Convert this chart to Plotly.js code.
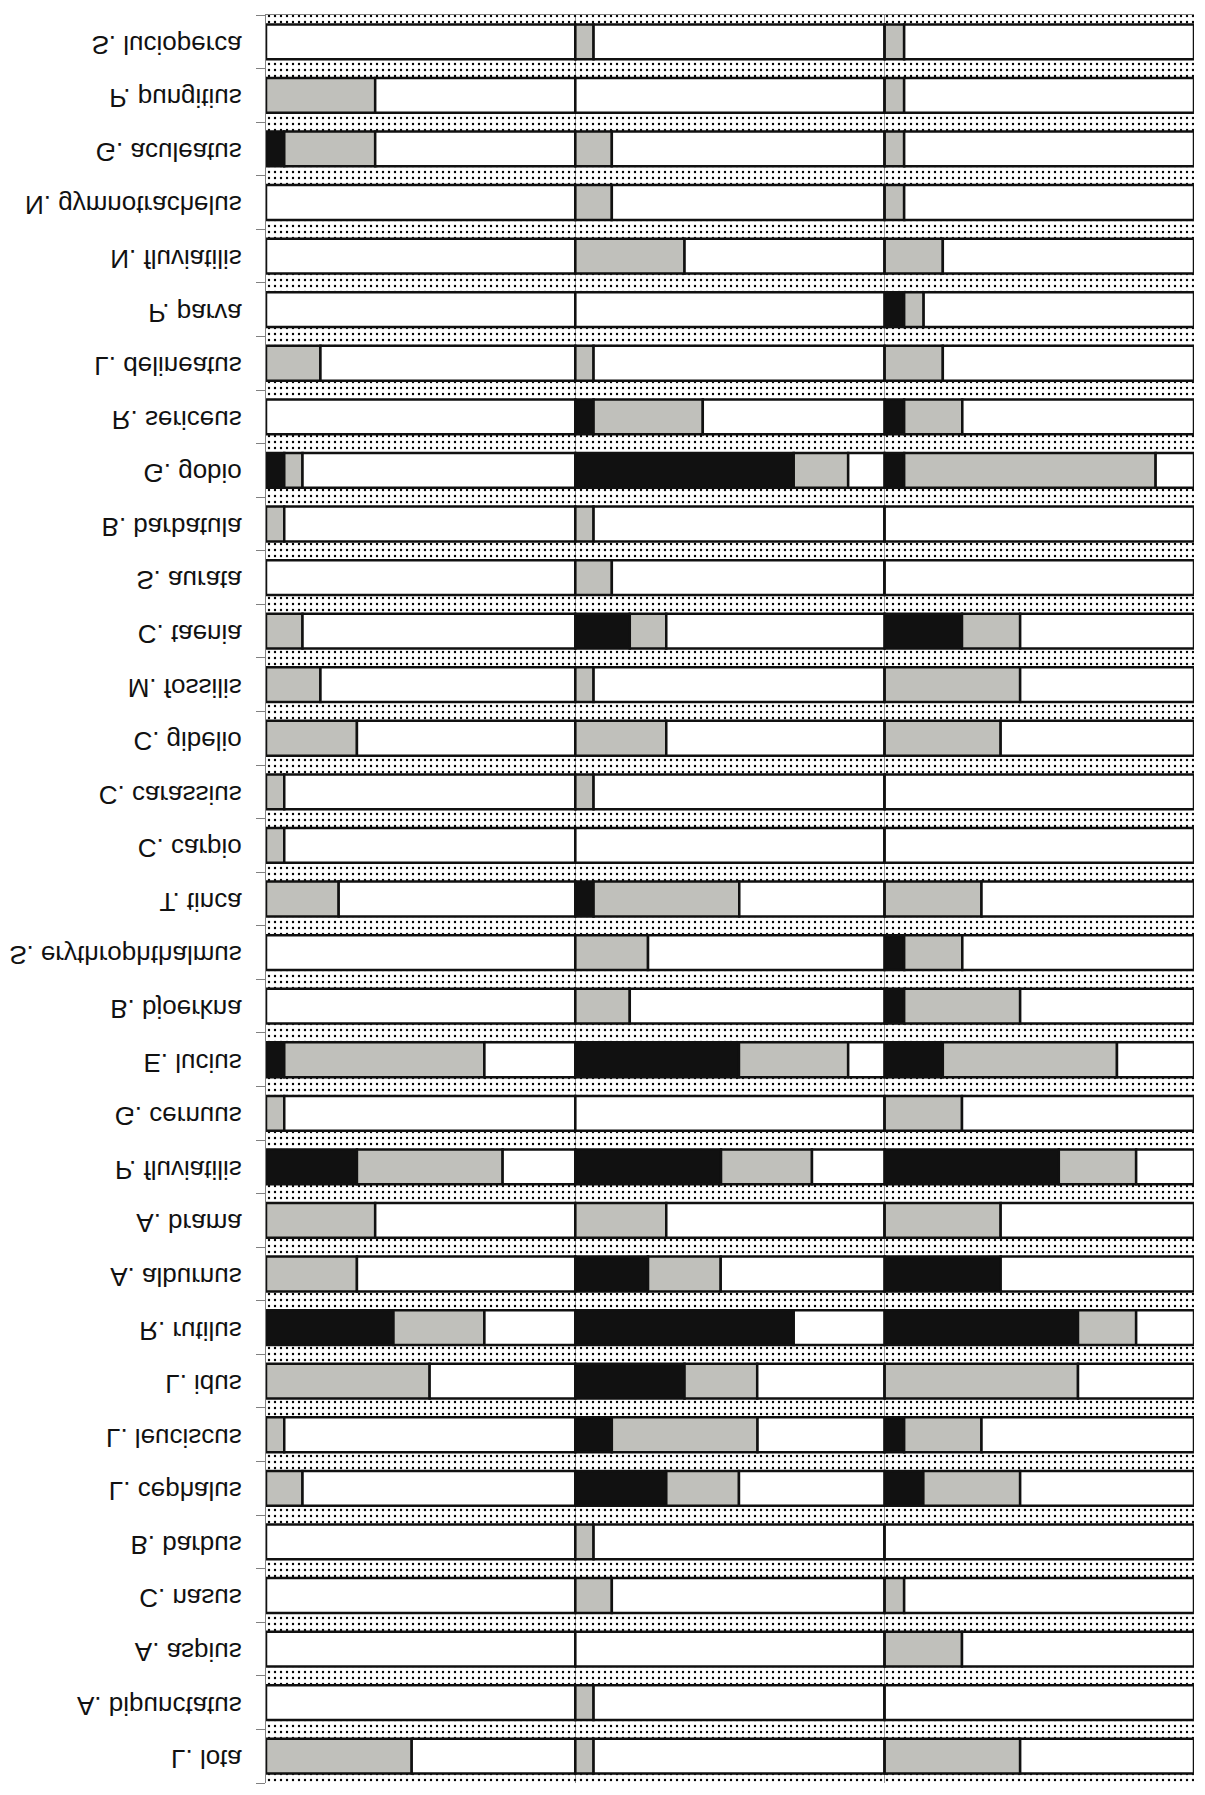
<!DOCTYPE html>
<html>
<head>
<meta charset="utf-8">
<script src="https://cdn.plot.ly/plotly-3.0.1.min.js"></script>
<style>
  html, body { margin: 0; padding: 0; background: #ffffff; }
  #chart { width: 1205px; height: 1795px; transform: scaleY(-1); transform-origin: 50% 50%; }
</style>
</head>
<body>
<div id="chart"></div>
<script>
// Species, listed from top to bottom of the figure
const species = [
  "S. lucioperca", "P. pungitius", "G. aculeatus", "N. gymnotrachelus", "N. fluviatilis",
  "P. parva", "L. delineatus", "R. sericeus", "G. gobio", "B. barbatula",
  "S. aurata", "C. taenia", "M. fossilis", "C. gibelio", "C. carassius",
  "C. carpio", "T. tinca", "S. erythrophthalmus", "B. bjoerkna", "E. lucius",
  "G. cernuus", "P. fluviatilis", "A. brama", "A. alburnus", "R. rutilus",
  "L. idus", "L. leuciscus", "L. cephalus", "B. barbus", "C. nasus",
  "A. aspius", "A. bipunctatus", "L. lota"
];

// Panel 1 (percent): black segment, grey segment
const black1 = [0, 0, 5.9, 0, 0, 0, 0, 0, 5.9, 0, 0, 0, 0, 0, 0, 0, 0, 0, 0, 5.9, 0, 29.4, 0, 0, 41.2, 0, 0, 0, 0, 0, 0, 0, 0];
const grey1  = [0, 35.3, 29.4, 0, 0, 0, 17.6, 0, 5.9, 5.9, 0, 11.8, 17.6, 29.4, 5.9, 5.9, 23.5, 0, 0, 64.7, 5.9, 47.1, 35.3, 29.4, 29.4, 52.9, 5.9, 11.8, 0, 0, 0, 0, 47.1];

// Panel 2 (percent)
const black2 = [0, 0, 0, 0, 0, 0, 0, 5.9, 70.6, 0, 0, 17.6, 0, 0, 0, 0, 5.9, 0, 0, 52.9, 0, 47.1, 0, 23.5, 70.6, 35.3, 11.8, 29.4, 0, 0, 0, 0, 0];
const grey2  = [5.9, 0, 11.8, 11.8, 35.3, 0, 5.9, 35.3, 17.6, 5.9, 11.8, 11.8, 5.9, 29.4, 5.9, 0, 47.1, 23.5, 17.6, 35.3, 0, 29.4, 29.4, 23.5, 0, 23.5, 47.1, 23.5, 5.9, 11.8, 0, 5.9, 5.9];

// Panel 3 (percent)
const black3 = [0, 0, 0, 0, 0, 6.3, 0, 6.3, 6.3, 0, 0, 25, 0, 0, 0, 0, 0, 6.3, 6.3, 18.8, 0, 56.3, 0, 37.5, 62.5, 0, 6.3, 12.5, 0, 0, 0, 0, 0];
const grey3  = [6.3, 6.3, 6.3, 6.3, 18.8, 6.3, 18.8, 18.8, 81.3, 0, 0, 18.8, 43.8, 37.5, 0, 0, 31.3, 18.8, 37.5, 56.3, 25, 25, 37.5, 0, 18.8, 62.5, 25, 31.3, 0, 6.3, 25, 0, 43.8];

const FULL = 100;
const panels = [[black1, grey1], [black2, grey2], [black3, grey3]];

const traces = [];
// dotted background band
traces.push({
  type: "bar", orientation: "h", y: species,
  x: species.map(() => FULL * panels.length), base: species.map(() => 0),
  width: 1,
  marker: { color: "#000000", line: { width: 0 },
            pattern: { shape: ".", fillmode: "replace", size: 6, solidity: 0.12 } },
  hoverinfo: "skip", showlegend: false
});

const segStyle = (c) => ({ color: c, line: { color: "#111111", width: 2.5 } });

panels.forEach(([blk, gry], p) => {
  const start = p * FULL;
  traces.push({
    type: "bar", orientation: "h", y: species, width: 0.65,
    base: blk.map(() => start), x: blk,
    marker: segStyle("#111111"), hoverinfo: "skip", showlegend: false
  });
  traces.push({
    type: "bar", orientation: "h", y: species, width: 0.65,
    base: blk.map(b => start + b), x: gry,
    marker: segStyle("#c0c0bb"), hoverinfo: "skip", showlegend: false
  });
  traces.push({
    type: "bar", orientation: "h", y: species, width: 0.65,
    base: blk.map((b, i) => start + b + gry[i]), x: blk.map((b, i) => FULL - b - gry[i]),
    marker: segStyle("#ffffff"), hoverinfo: "skip", showlegend: false
  });
});

const layout = {
  width: 1205, height: 1795,
  margin: { l: 266, r: 11, t: 12, b: 15, pad: 0 },
  paper_bgcolor: "#ffffff", plot_bgcolor: "#ffffff",
  barmode: "overlay", bargap: 0,
  showlegend: false,
  xaxis: {
    range: [0, FULL * panels.length], autorange: false,
    tick0: 0, dtick: FULL, showticklabels: false, ticks: "",
    showgrid: true, gridcolor: "#9a9a9a", gridwidth: 1,
    zeroline: false, showline: true, linecolor: "#808080", linewidth: 1, side: "bottom",
    fixedrange: true
  },
  yaxis: {
    type: "category", categoryorder: "array", categoryarray: species,
    range: [-0.5, species.length - 0.5], autorange: false,
    tickson: "boundaries", ticks: "outside", ticklen: 9, tickwidth: 1, tickcolor: "#808080",
    showline: true, linecolor: "#808080", linewidth: 1,
    showgrid: false, zeroline: false,
    ticklabelstandoff: 18, ticklabelshift: -3,
    tickfont: { family: "Liberation Sans, Arial, sans-serif", size: 26, color: "#111111" },
    fixedrange: true
  }
};

Plotly.newPlot("chart", traces, layout, { staticPlot: true, displayModeBar: false });
</script>
</body>
</html>
